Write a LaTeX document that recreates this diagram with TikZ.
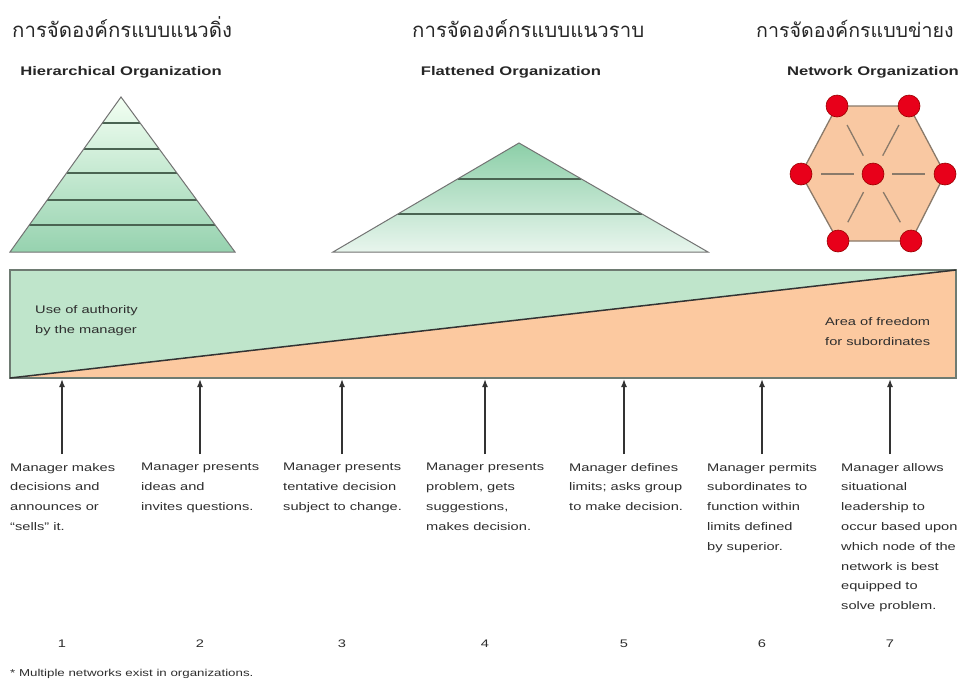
\documentclass[tikz,border=0pt]{standalone}
\usepackage{fontspec}
\setmainfont{Liberation Sans}[FakeStretch=1.33]
\newfontfamily\thaifont[Script=Thai]{Loma}
\usetikzlibrary{arrows.meta,calc}
\definecolor{grn}{HTML}{BFE5CB}
\definecolor{pch}{HTML}{FCC9A0}
\definecolor{hexfill}{HTML}{F9C8A2}
\definecolor{hexedge}{HTML}{8A7A6A}
\definecolor{nodered}{HTML}{E8001A}
\definecolor{txt}{HTML}{2E2E2E}
\definecolor{pyrline}{HTML}{4A6452}
\definecolor{rectedge}{HTML}{6E7B72}
\tikzset{
  thaititle/.style={anchor=base west,inner sep=0,font=\thaifont\fontsize{20.4}{23}\selectfont,text=black!85},
  heading/.style={anchor=base,inner sep=0,font=\bfseries\fontsize{12.5}{14}\selectfont,text=black!85},
  desc/.style={anchor=north west,inner sep=0,align=left,font=\fontsize{11}{19.8}\selectfont,text=txt},
  inlbl/.style={anchor=north west,inner sep=0,align=left,font=\fontsize{11}{20.5}\selectfont,text=txt},
  numlbl/.style={anchor=base,inner sep=0,font=\fontsize{11}{13}\selectfont,text=txt},
  uparrow/.style={-{Latex[length=8pt,width=6pt]},line width=1.5pt,draw=black!80},
  pyrstrip/.style={draw=pyrline,line width=1.4pt},
  pyroutline/.style={draw=black!55,line width=1pt},
  rednode/.style={circle,fill=nodered,draw=red!60!black,line width=0.6pt,minimum size=22pt,inner sep=0},
  hexline/.style={draw=hexedge,line width=1.3pt},
}
\begin{document}
\begin{tikzpicture}[x=1pt,y=-1pt]
\useasboundingbox (0,0) rectangle (959,686);
\fill[white] (0,0) rectangle (959,686);

% Thai titles
\node[thaititle] (t1) at (12,37) {การจัดองค์กรแบบแนวดิ่ง};
\node[thaititle] (t2) at (412,37) {การจัดองค์กรแบบแนวราบ};
\node[thaititle,font=\thaifont\fontsize{19.6}{23}\selectfont] (t3) at (756,37) {การจัดองค์กรแบบข่ายง};

% headings
\node[heading] (h1) at (121,75) {Hierarchical Organization};
\node[heading] (h2) at (511,75) {Flattened Organization};
\node[heading] (h3) at (873,75) {Network Organization};

% Pyramid 1
\coordinate (pa) at (121,97);
\coordinate (pl) at (10,252);
\coordinate (pr) at (235,252);
\shade[top color=green!5!white, bottom color={rgb,255:red,150;green,210;blue,175}] (pa) -- (pr) -- (pl) -- cycle;
\foreach \t in {0.168,0.335,0.49,0.665,0.826}
  \draw[pyrstrip] ($(pa)!\t!(pl)$) -- ($(pa)!\t!(pr)$);
\draw[pyroutline] (pa) -- (pr) -- (pl) -- cycle;

% Pyramid 2
\coordinate (qa) at (519,143);
\coordinate (ql) at (333,252);
\coordinate (qr) at (708,252);
\shade[top color={rgb,255:red,140;green,207;blue,168}, bottom color={rgb,255:red,232;green,245;blue,237}] (qa) -- (qr) -- (ql) -- cycle;
\foreach \t in {0.33,0.651}
  \draw[pyrstrip] ($(qa)!\t!(ql)$) -- ($(qa)!\t!(qr)$);
\draw[pyroutline] (qa) -- (qr) -- (ql) -- cycle;

% Network hexagon
\coordinate (vtl) at (837,106);
\coordinate (vtr) at (909,106);
\coordinate (vr) at (945,174);
\coordinate (vbr) at (911,241);
\coordinate (vbl) at (838,241);
\coordinate (vl) at (801,174);
\coordinate (vc) at (873,174);
\fill[hexfill] (vtl) -- (vtr) -- (vr) -- (vbr) -- (vbl) -- (vl) -- cycle;
\draw[hexline] (vtl) -- (vtr) -- (vr) -- (vbr) -- (vbl) -- (vl) -- cycle;
\foreach \v in {vtl,vtr,vr,vbr,vbl,vl}
  \draw[hexline] ($(vc)!0.27!(\v)$) -- ($(vc)!0.72!(\v)$);
\foreach \v in {vtl,vtr,vr,vbr,vbl,vl,vc}
  \node[rednode] (n\v) at (\v) {};

% big rectangle
\coordinate (rtl) at (10,270);
\coordinate (rtr) at (956,270);
\coordinate (rbr) at (956,378);
\coordinate (rbl) at (10,378);
\fill[grn] (rtl) -- (rtr) -- (rbl) -- cycle;
\fill[pch] (rbl) -- (rtr) -- (rbr) -- cycle;
\draw[draw=rectedge,line width=1.2pt] (rtl) rectangle (rbr);
\draw[line width=1.5pt,draw=black!80] (rbl) -- (rtr);

\node[inlbl] (ua) at (35,305) {Use of authority\\by the manager};
\node[inlbl] (af) at (825,317) {Area of freedom\\for subordinates};

% descriptions
\node[desc] (d1) at (10,463) {Manager makes\\decisions and\\announces or\\“sells” it.};
\node[desc] (d2) at (141,463) {Manager presents\\ideas and\\invites questions.};
\node[desc] (d3) at (283,463) {Manager presents\\tentative decision\\subject to change.};
\node[desc] (d4) at (426,463) {Manager presents\\problem, gets\\suggestions,\\makes decision.};
\node[desc] (d5) at (569,463) {Manager defines\\limits; asks group\\to make decision.};
\node[desc] (d6) at (707,463) {Manager permits\\subordinates to\\function within\\limits defined\\by superior.};
\node[desc] (d7) at (841,463) {Manager allows\\situational\\leadership to\\occur based upon\\which node of the\\network is best\\equipped to\\solve problem.};

% arrows
\foreach \i/\x in {1/62,2/200,3/342,4/485,5/624,6/762,7/890} {
  \coordinate (as\i) at (\x,454);
  \coordinate (ae\i) at (\x,379);
  \draw[uparrow] (as\i) -- (ae\i);
  \node[numlbl] (num\i) at (\x,647) {\i};
}

\node[anchor=base west,inner sep=0,font=\fontsize{10}{12}\selectfont,text=txt] (fn) at (10,676) {* Multiple networks exist in organizations.};
\end{tikzpicture}
\end{document}
